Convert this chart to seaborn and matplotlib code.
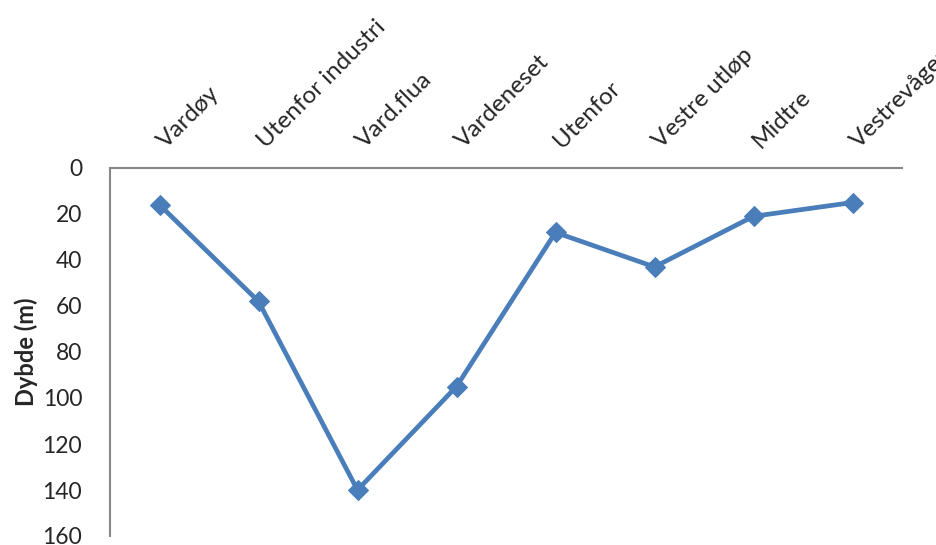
import matplotlib
matplotlib.use("Agg")
import matplotlib.pyplot as plt
import matplotlib.transforms as mtransforms
import seaborn as sns
import pandas as pd

stations = ["Vardøy", "Utenfor industri", "Vard.flua", "Vardeneset",
            "Utenfor", "Vestre utløp", "Midtre", "Vestrevågen"]
depths = [16, 58, 140, 95, 28, 43, 21, 15]
yticks = [0, 20, 40, 60, 80, 100, 120, 140, 160]

sns.set_theme(style="white")
plt.rcParams["font.family"] = ["Lato", "DejaVu Sans"]

df = pd.DataFrame({"Stasjon": stations, "Dybde": depths})

fig = plt.figure(figsize=(9.36, 5.45), dpi=100)
ax = fig.add_axes([110 / 936, (545 - 536) / 545, 792 / 936, (536 - 168) / 545])

color = "#4a7ebb"
sns.lineplot(data=df, x="Stasjon", y="Dybde", sort=False, ax=ax,
             color=color, linewidth=3.4, marker="D", markersize=10,
             markeredgecolor=color, markerfacecolor=color)

ax.set_xlim(-0.5, len(stations) - 0.5)
ax.set_ylim(160, 0)
ax.set_yticks(yticks)
ax.set_yticklabels([str(v) for v in yticks], fontsize=16.5,
                   va="center_baseline")
ax.set_xlabel("")
ax.set_ylabel("Dybde (m)", fontsize=17, fontweight="bold", labelpad=3)

ax.xaxis.tick_top()
ax.set_xticks(range(len(stations)))
ax.set_xticklabels(stations, fontsize=17.5, rotation=45, ha="left",
                   va="baseline", rotation_mode="anchor")
ax.tick_params(axis="x", length=0, pad=13.5)
ax.tick_params(axis="y", length=0, pad=20)
offset = mtransforms.ScaledTranslation(7 / 100, 0, fig.dpi_scale_trans)
for lbl in ax.get_xticklabels():
    lbl.set_transform(lbl.get_transform() + offset)

for side in ["right", "bottom"]:
    ax.spines[side].set_visible(False)
for side in ["top", "left"]:
    ax.spines[side].set_color("#878787")
    ax.spines[side].set_linewidth(1.5)
ax.grid(False)

fig.savefig("out.png", dpi=100)
